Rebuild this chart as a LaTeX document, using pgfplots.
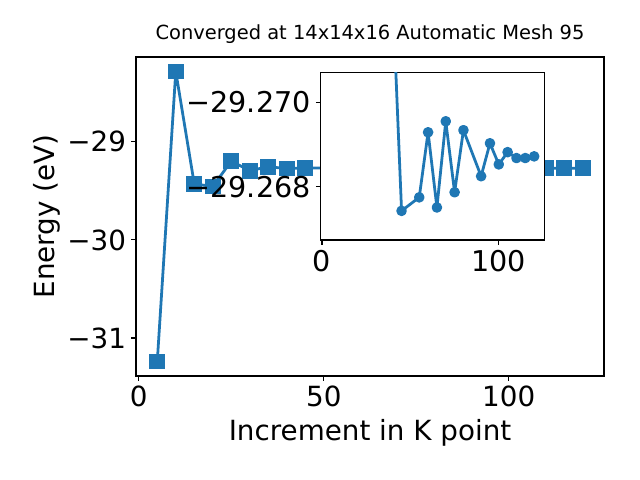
\documentclass[border=0pt]{standalone}
\usepackage{fontspec}
\setmainfont{DejaVu Sans}
\usepackage{pgfplots}
\pgfplotsset{compat=1.18}
\definecolor{mplblue}{RGB}{31,119,180}
\begin{document}
\begin{tikzpicture}
\path (0,0) rectangle (460.8pt,345.6pt);
\pgfplotsset{
  mystyle/.style={
    scale only axis,
    axis line style={line width=0.8pt},
    tick align=outside,
    major tick length=3.5pt,
    every tick/.style={line width=0.8pt, black},
    xtick pos=lower, ytick pos=left,
    every tick label/.append style={inner sep=0pt, font=\fontsize{20}{24}\selectfont},
    xticklabel style={yshift=-3.5pt},
    yticklabel style={xshift=-3.5pt},
    clip=true,
  }
}
\begin{axis}[mystyle,
  at={(97.92pt,74.88pt)}, anchor=south west,
  width=336.96pt, height=229.68pt,
  xmin=-0.75, xmax=125.75, ymin=-31.387, ymax=-28.136,
  xtick={0,50,100}, xticklabels={0,50,100},
  ytick={-31,-30,-29}, yticklabels={−31,−30,−29},
  xlabel={Increment in K point}, ylabel={Energy (eV)},
  label style={font=\fontsize{20}{24}\selectfont},
  xlabel style={at={(axis description cs:0.5,-0.2028)}, anchor=base},
  ylabel style={at={(axis description cs:-0.1752,0.5)}, anchor=base},
  title={Converged at 14x14x16 Automatic Mesh 95},
  title style={at={(axis description cs:0.5,1.0273)}, anchor=base, font=\fontsize{14}{17}\selectfont},
]
\addplot[mplblue, line width=2pt, line join=round, mark=square*, mark size=5.2pt, mark options={solid, fill=mplblue, line join=miter, line width=1pt}] coordinates {
(5,-31.239) (10,-28.284) (15,-29.43) (20,-29.455) (25,-29.198) (30,-29.294) (35,-29.255) (40,-29.2725)
(45,-29.26743) (55,-29.26775) (60,-29.26929) (65,-29.26751) (70,-29.26955) (75,-29.26787) (80,-29.26934)
(90,-29.26825) (95,-29.26903) (100,-29.26853) (105,-29.26882) (110,-29.26868) (115,-29.26868) (120,-29.26872)
};
\end{axis}
\begin{axis}[mystyle,
  at={(230.9pt,172.8pt)}, anchor=south west,
  width=161.0pt, height=120.74pt,
  axis background/.style={fill=white},
  xmin=-0.75, xmax=125.75, ymin=-29.27071, ymax=-29.26674,
  y dir=reverse,
  xtick={0,100}, xticklabels={0,100},
  ytick={-29.270,-29.268}, yticklabels={−29.270,−29.268},
  every tick label/.append style={font=\fontsize{20.6}{24}\selectfont},
]
\addplot[mplblue, line width=2pt, line join=round, mark=*, mark size=2.8pt, mark options={solid, fill=mplblue}] coordinates {
(40,-29.2725)
(45,-29.26743) (55,-29.26775) (60,-29.26929) (65,-29.26751) (70,-29.26955) (75,-29.26787) (80,-29.26934)
(90,-29.26825) (95,-29.26903) (100,-29.26853) (105,-29.26882) (110,-29.26868) (115,-29.26868) (120,-29.26872)
};
\end{axis}
\end{tikzpicture}
\end{document}
